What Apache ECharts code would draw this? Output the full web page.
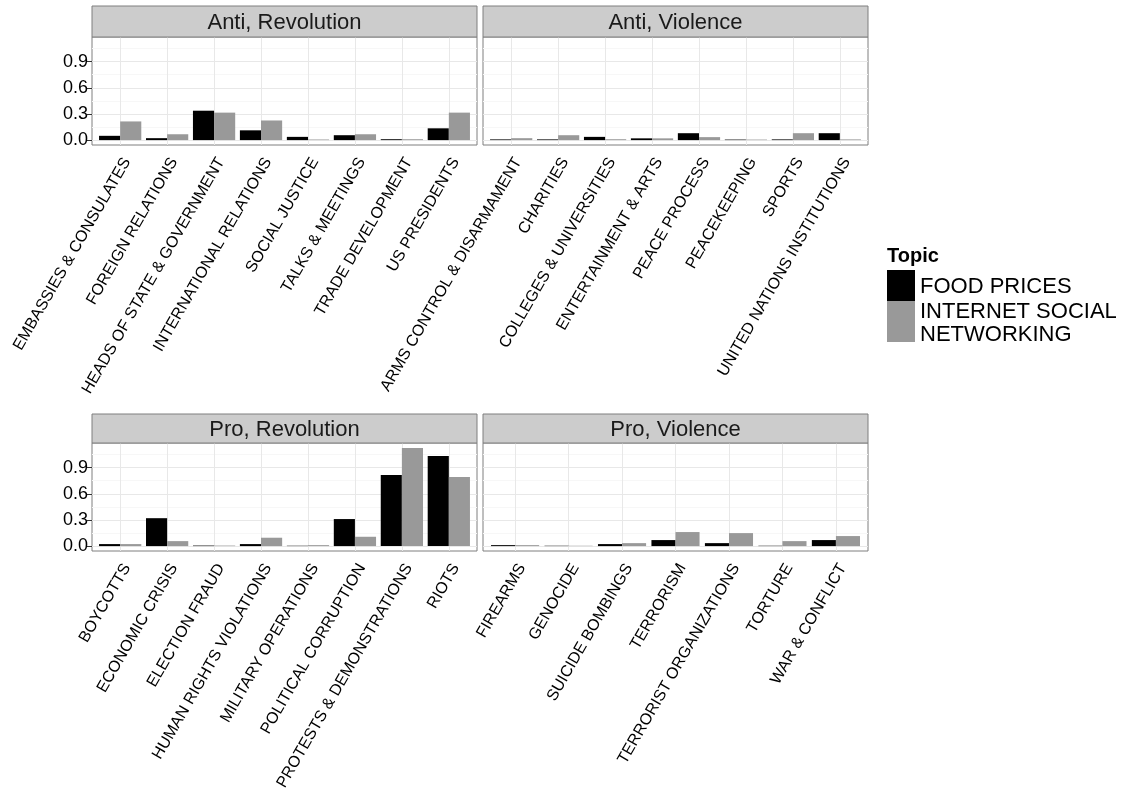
<!DOCTYPE html>
<html>
<head>
<meta charset="utf-8">
<script src="https://cdn.jsdelivr.net/npm/echarts@6/dist/echarts.min.js"></script>
<style>html,body{margin:0;padding:0;background:#fff;}#main{width:1127px;height:799px;}</style>
</head>
<body>
<div id="main"></div>
<script>
// ---- data ----
const yTicks = [0, 0.3, 0.6, 0.9];
const yMinor = [0.15, 0.45, 0.75, 1.05];
const seriesNames = ['FOOD PRICES', 'INTERNET SOCIAL\nNETWORKING'];

const antiRevCats = ['EMBASSIES & CONSULATES', 'FOREIGN RELATIONS', 'HEADS OF STATE & GOVERNMENT', 'INTERNATIONAL RELATIONS', 'SOCIAL JUSTICE', 'TALKS & MEETINGS', 'TRADE DEVELOPMENT', 'US PRESIDENTS'];
const antiRevFood = [0.049, 0.022, 0.337, 0.112, 0.037, 0.056, 0.010, 0.135];
const antiRevNet  = [0.214, 0.067, 0.315, 0.225, 0.007, 0.067, 0.010, 0.315];

const antiVioCats = ['ARMS CONTROL & DISARMAMENT', 'CHARITIES', 'COLLEGES & UNIVERSITIES', 'ENTERTAINMENT & ARTS', 'PEACE PROCESS', 'PEACEKEEPING', 'SPORTS', 'UNITED NATIONS INSTITUTIONS'];
const antiVioFood = [0.008, 0.008, 0.037, 0.020, 0.079, 0.006, 0.008, 0.079];
const antiVioNet  = [0.022, 0.056, 0.010, 0.020, 0.034, 0.006, 0.079, 0.008];

const proRevCats = ['BOYCOTTS', 'ECONOMIC CRISIS', 'ELECTION FRAUD', 'HUMAN RIGHTS VIOLATIONS', 'MILITARY OPERATIONS', 'POLITICAL CORRUPTION', 'PROTESTS & DEMONSTRATIONS', 'RIOTS'];
const proRevFood = [0.023, 0.320, 0.006, 0.023, 0.004, 0.310, 0.816, 1.034];
const proRevNet  = [0.023, 0.057, 0.006, 0.096, 0.011, 0.107, 1.126, 0.793];

const proVioCats = ['FIREARMS', 'GENOCIDE', 'SUICIDE BOMBINGS', 'TERRORISM', 'TERRORIST ORGANIZATIONS', 'TORTURE', 'WAR & CONFLICT'];
const proVioFood = [0.011, 0.004, 0.023, 0.069, 0.034, 0.004, 0.069];
const proVioNet  = [0.011, 0.004, 0.034, 0.161, 0.149, 0.057, 0.115];

// ---- layout ----
const FONT = "'Liberation Sans', Arial, Helvetica, sans-serif";
const Y_MIN = -0.0563, Y_MAX = 1.1823;
const colors = ['#000000', '#999999'];

const panels = [
  {title: 'Anti, Revolution', cats: antiRevCats, food: antiRevFood, net: antiRevNet, x: 92,  y: 37,  h: 108, sTop: 6,   showY: true},
  {title: 'Anti, Violence',   cats: antiVioCats, food: antiVioFood, net: antiVioNet, x: 483, y: 37,  h: 108, sTop: 6,   showY: false},
  {title: 'Pro, Revolution',  cats: proRevCats,  food: proRevFood,  net: proRevNet,  x: 92,  y: 443, h: 108, sTop: 414, showY: true},
  {title: 'Pro, Violence',    cats: proVioCats,  food: proVioFood,  net: proVioNet,  x: 483, y: 443, h: 108, sTop: 414, showY: false}
];
const PW = 385;

const option = {animation: false, grid: [], xAxis: [], yAxis: [], series: [], graphic: []};

panels.forEach((p, i) => {
  const n = p.cats.length;
  const u = PW / (n + 0.2);
  const inset = 0.1 * u;
  const gO = i * 2, gI = i * 2 + 1;
  option.grid.push({left: p.x, top: p.y, width: PW, height: p.h, show: true, backgroundColor: '#ffffff', borderColor: '#7f7f7f', borderWidth: 1, z: 0});
  option.grid.push({left: p.x + inset, top: p.y, width: PW - 2 * inset, height: p.h});
  option.xAxis.push({gridIndex: gO, type: 'value', min: 0, max: 1, show: false});
  option.xAxis.push({
    gridIndex: gI, type: 'category', data: p.cats,
    axisLine: {show: false},
    axisTick: {show: true, alignWithLabel: true, length: 5, lineStyle: {color: '#333333', width: 1}},
    axisLabel: {interval: 0, rotate: 60, align: 'right', verticalAlign: 'top', margin: 10, fontSize: 16, color: '#000000', fontFamily: FONT, hideOverlap: false},
    splitLine: {show: false}
  });
  option.yAxis.push({
    gridIndex: gO, type: 'value', min: Y_MIN, max: Y_MAX,
    axisLine: {show: false},
    axisTick: {show: p.showY, customValues: yTicks, length: 5, lineStyle: {color: '#333333'}},
    axisLabel: {show: p.showY, customValues: yTicks, formatter: v => Number(v).toFixed(1), fontSize: 18, color: '#000000', fontFamily: FONT, margin: 4},
    splitLine: {show: false}
  });
  option.yAxis.push({gridIndex: gI, type: 'value', min: Y_MIN, max: Y_MAX, show: false});

  // horizontal grid lines
  option.series.push({
    type: 'line', xAxisIndex: gO, yAxisIndex: gO, data: [], z: 1, silent: true,
    markLine: {
      silent: true, symbol: 'none', animation: false, label: {show: false}, z: 1,
      data: yMinor.map(v => ({yAxis: v, lineStyle: {color: '#f7f7f7', width: 1, type: 'solid'}}))
        .concat(yTicks.map(v => ({yAxis: v, lineStyle: {color: '#e8e8e8', width: 1, type: 'solid'}})))
    }
  });
  // vertical grid lines
  option.series.push({
    type: 'line', xAxisIndex: gI, yAxisIndex: gI, data: [], z: 1, silent: true,
    markLine: {
      silent: true, symbol: 'none', animation: false, label: {show: false}, z: 1,
      data: p.cats.map((c, k) => [{coord: [k, Y_MIN]}, {coord: [k, Y_MAX]}]),
      lineStyle: {color: '#e8e8e8', width: 1, type: 'solid'}
    }
  });
  option.series.push({type: 'bar', name: seriesNames[0], xAxisIndex: gI, yAxisIndex: gI, data: p.food, itemStyle: {color: colors[0]}, barGap: '0%', barCategoryGap: '10%', z: 3});
  option.series.push({type: 'bar', name: seriesNames[1], xAxisIndex: gI, yAxisIndex: gI, data: p.net, itemStyle: {color: colors[1]}, barGap: '0%', barCategoryGap: '10%', z: 3});

  // strip
  option.graphic.push({type: 'rect', shape: {x: p.x, y: p.sTop, width: PW, height: p.y - p.sTop}, style: {fill: '#cccccc', stroke: '#7f7f7f', lineWidth: 1}, z: 10});
  option.graphic.push({type: 'text', x: p.x + PW / 2, y: (p.sTop + p.y) / 2 + 1, style: {text: p.title, fontSize: 22, fontFamily: FONT, fill: '#1a1a1a', align: 'center', verticalAlign: 'middle', textAlign: 'center', textVerticalAlign: 'middle'}, z: 11});
});

// legend
option.graphic.push({type: 'text', x: 887, y: 256, style: {text: 'Topic', fontSize: 20, fontWeight: 'bold', fontFamily: FONT, fill: '#000', align: 'left', verticalAlign: 'middle', textAlign: 'left', textVerticalAlign: 'middle'}});
option.graphic.push({type: 'rect', shape: {x: 887, y: 270, width: 28, height: 31}, style: {fill: colors[0]}});
option.graphic.push({type: 'rect', shape: {x: 887, y: 301, width: 28, height: 41}, style: {fill: colors[1]}});
option.graphic.push({type: 'text', x: 920, y: 287, style: {text: 'FOOD PRICES', fontSize: 22, fontFamily: FONT, fill: '#000', align: 'left', verticalAlign: 'middle', textAlign: 'left', textVerticalAlign: 'middle'}});
option.graphic.push({type: 'text', x: 920, y: 323, style: {text: seriesNames[1], fontSize: 22, lineHeight: 23, fontFamily: FONT, fill: '#000', align: 'left', verticalAlign: 'middle', textAlign: 'left', textVerticalAlign: 'middle'}});

const chart = echarts.init(document.getElementById('main'), null, {renderer: 'canvas'});
chart.setOption(option);
</script>
</body>
</html>
